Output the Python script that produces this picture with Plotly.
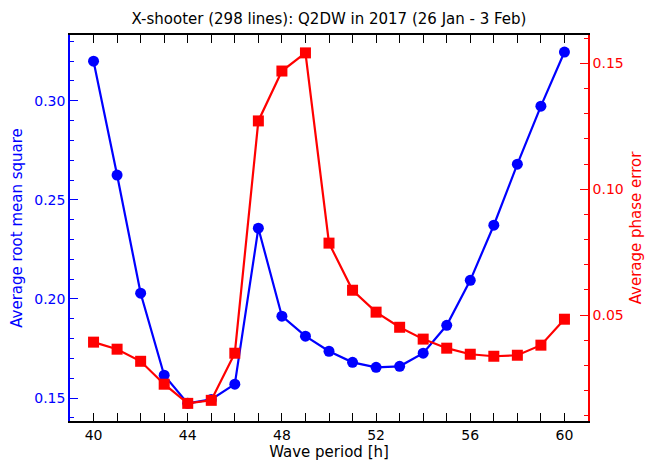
import plotly.graph_objects as go

period = [40, 41, 42, 43, 44, 45, 46, 47, 48, 49, 50, 51, 52, 53, 54, 55, 56, 57, 58, 59, 60]
rms = [0.3200, 0.2625, 0.2029, 0.1615, 0.1473, 0.1493, 0.1570, 0.2357, 0.1913, 0.1812,
       0.1736, 0.1680, 0.1655, 0.1660, 0.1726, 0.1867, 0.2094, 0.2372, 0.2680, 0.2973, 0.3246]
phase_err = [0.0393, 0.0365, 0.0317, 0.0226, 0.0150, 0.0162, 0.0349, 0.1271, 0.1469, 0.1541,
             0.0786, 0.0599, 0.0512, 0.0452, 0.0405, 0.0369, 0.0345, 0.0337, 0.0341, 0.0381, 0.0484]

title = "X-shooter (298 lines): Q2DW in 2017 (26 Jan - 3 Feb)"
FONT = "DejaVu Sans"

fig = go.Figure()
fig.add_trace(go.Scatter(x=period, y=rms, mode="lines+markers",
                         line=dict(color="#0000ff", width=2.2),
                         marker=dict(symbol="circle", size=11, color="#0000ff"),
                         yaxis="y", showlegend=False))
fig.add_trace(go.Scatter(x=period, y=phase_err, mode="lines+markers",
                         line=dict(color="#ff0000", width=2.2),
                         marker=dict(symbol="square", size=11, color="#ff0000"),
                         yaxis="y2", showlegend=False))

fig.update_layout(
    width=645, height=461,
    margin=dict(l=70, r=57, t=35, b=40),
    paper_bgcolor="white", plot_bgcolor="white",
    font=dict(family=FONT, size=14, color="black"),
    title=dict(text=title, x=329 / 645, xanchor="center", y=1 - 19 / 461, yanchor="middle",
               font=dict(family=FONT, size=15, color="black")),
    xaxis=dict(range=[39, 61], tickmode="array", tickvals=[40, 44, 48, 52, 56, 60],
               ticks="inside", ticklen=8, tickcolor="black", tickwidth=1,
               minor=dict(dtick=1, tick0=40, ticks="inside", ticklen=4, tickcolor="black"),
               showline=True, linecolor="black", linewidth=1.5, mirror="allticks",
               showgrid=False, zeroline=False, automargin=False,
               title=dict(text="Wave period [h]", standoff=2, font=dict(size=15)),
               tickfont=dict(size=14)),
    yaxis=dict(range=[0.1384, 0.3332], tickmode="array", tickvals=[0.15, 0.20, 0.25, 0.30],
               ticktext=["0.15", "0.20", "0.25", "0.30"],
               ticks="inside", ticklen=8, tickcolor="#0000ff",
               minor=dict(dtick=0.01, tick0=0.14, ticks="inside", ticklen=4, tickcolor="#0000ff"),
               showline=True, linecolor="#0000ff", linewidth=1.5,
               showgrid=False, zeroline=False, automargin=False,
               tickfont=dict(color="#0000ff", size=14),
               title=dict(text="Average root mean square", font=dict(color="#0000ff", size=15),
                          standoff=8)),
    yaxis2=dict(range=[0.008, 0.1612], overlaying="y", side="right",
                tickmode="array", tickvals=[0.05, 0.10, 0.15],
                ticktext=["0.05", "0.10", "0.15"],
                ticks="inside", ticklen=8, tickcolor="#ff0000",
                minor=dict(dtick=0.01, tick0=0.0, ticks="inside", ticklen=4, tickcolor="#ff0000"),
                showline=True, linecolor="#ff0000", linewidth=1.5,
                showgrid=False, zeroline=False, automargin=False,
                tickfont=dict(color="#ff0000", size=14),
                title=dict(text="Average phase error", font=dict(color="#ff0000", size=15),
                           standoff=11)),
)

fig.write_html("out.html", config={"displayModeBar": False},
               post_script="document.body.style.margin='0px';")
